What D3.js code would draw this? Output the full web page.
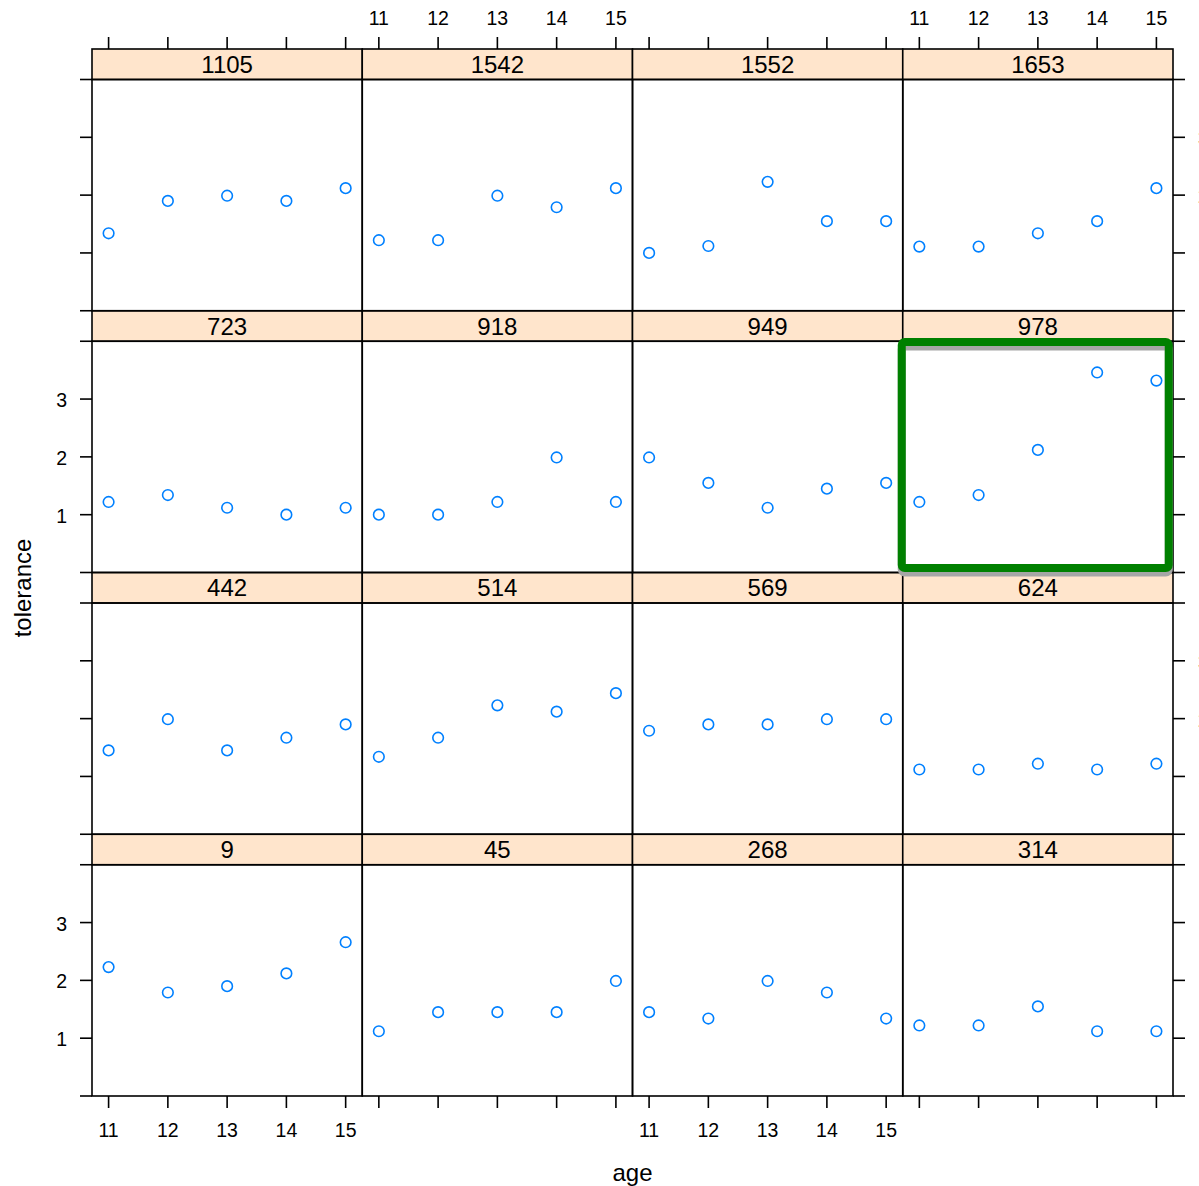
<!DOCTYPE html>
<head>
  <meta charset="utf-8">
  <script src="https://d3js.org/d3.v7.min.js"></script>
  <style>
    body { margin: 0; background: #fff; }
    text { font-family: "Liberation Sans", Arial, sans-serif; fill: #000; }
    .frame { fill: none; stroke: #000; stroke-width: 1.6; }
    .tick { stroke: #000; stroke-width: 1.6; }
  </style>
</head>
<body>
  <div id="graph"></div>
  <script>
    // panel ids, in lattice order (bottom-left first)
    var ids = [9, 45, 268, 314, 442, 514, 569, 624, 723, 918, 949, 978, 1105, 1542, 1552, 1653];
    var ages = [11, 12, 13, 14, 15];
    var tolerance = [
      [2.23, 1.79, 1.90, 2.12, 2.66],
      [1.12, 1.45, 1.45, 1.45, 1.99],
      [1.45, 1.34, 1.99, 1.79, 1.34],
      [1.22, 1.22, 1.55, 1.12, 1.12],
      [1.45, 1.99, 1.45, 1.67, 1.90],
      [1.34, 1.67, 2.23, 2.12, 2.44],
      [1.79, 1.90, 1.90, 1.99, 1.99],
      [1.12, 1.12, 1.22, 1.12, 1.22],
      [1.22, 1.34, 1.12, 1.00, 1.12],
      [1.00, 1.00, 1.22, 1.99, 1.22],
      [1.99, 1.55, 1.12, 1.45, 1.55],
      [1.22, 1.34, 2.12, 3.46, 3.32],
      [1.34, 1.90, 1.99, 1.90, 2.12],
      [1.22, 1.22, 1.99, 1.79, 2.12],
      [1.00, 1.12, 2.23, 1.55, 1.55],
      [1.11, 1.11, 1.34, 1.55, 2.12]
    ];
    var yTicks = [0, 1, 2, 3, 4];
    var yLabels = [1, 2, 3];
    var highlightId = 978;

    var width = 1199, height = 1186;
    var mLeft = 92, mRight = 1173, mTop = 49, mBottom = 1096;
    var ncol = 4, nrow = 4;
    var colW = (mRight - mLeft) / ncol;
    var rowH = (mBottom - mTop) / nrow;
    var stripH = 30.5;
    var panelH = rowH - stripH;
    var tickLen = 12;

    var svg = d3.select("#graph").append("svg")
      .attr("width", width)
      .attr("height", height);

    var x = d3.scaleLinear().domain([10.72, 15.28]).range([0, colW]);
    var y = d3.scaleLinear().domain([0, 4]).range([panelH, 0]);

    function panelPos(i) {
      var col = i % ncol;
      var row = nrow - 1 - Math.floor(i / ncol); // row 0 at top
      return { col: col, row: row, x0: mLeft + col * colW, y0: mTop + row * rowH };
    }

    var hlLayer;

    ids.forEach(function(id, i) {
      var p = panelPos(i);
      var g = svg.append("g").attr("transform", "translate(" + p.x0 + "," + p.y0 + ")");

      // strip
      g.append("rect")
        .attr("width", colW).attr("height", stripH)
        .attr("fill", "#ffe5cc");
      g.append("text")
        .attr("x", colW / 2).attr("y", stripH / 2 + 8.5)
        .attr("text-anchor", "middle")
        .attr("font-size", 24)
        .text(id);
      g.append("rect").attr("class", "frame")
        .attr("width", colW).attr("height", stripH);

      var pg = g.append("g").attr("transform", "translate(0," + stripH + ")");
      pg.append("rect").attr("class", "frame")
        .attr("width", colW).attr("height", panelH);

      pg.selectAll("circle")
        .data(tolerance[i]).enter()
        .append("circle")
        .attr("cx", function(d, j) { return x(ages[j]); })
        .attr("cy", function(d) { return y(d); })
        .attr("r", 5.3)
        .attr("fill", "none")
        .attr("stroke", "#0080ff")
        .attr("stroke-width", 1.6);

      // left axis (first column)
      if (p.col === 0) {
        yTicks.forEach(function(t) {
          pg.append("line").attr("class", "tick")
            .attr("x1", -tickLen).attr("x2", 0)
            .attr("y1", y(t)).attr("y2", y(t));
        });
        if (p.row % 2 === 1) {
          yLabels.forEach(function(t) {
            pg.append("text")
              .attr("x", -tickLen - 13).attr("y", y(t) + 8)
              .attr("text-anchor", "end")
              .attr("font-size", 19.5)
              .text(t);
          });
        }
      }
      // right axis (last column); labels fall just past the page edge
      if (p.col === ncol - 1) {
        yTicks.forEach(function(t) {
          pg.append("line").attr("class", "tick")
            .attr("x1", colW).attr("x2", colW + tickLen)
            .attr("y1", y(t)).attr("y2", y(t));
        });
        if (p.row % 2 === 0) {
          yLabels.forEach(function(t) {
            pg.append("text")
              .attr("x", colW + tickLen + 13).attr("y", y(t) + 8)
              .attr("font-size", 19.5)
              .text(t);
          });
        }
      }
      // bottom axis (last row)
      if (p.row === nrow - 1) {
        ages.forEach(function(a) {
          pg.append("line").attr("class", "tick")
            .attr("x1", x(a)).attr("x2", x(a))
            .attr("y1", panelH).attr("y2", panelH + tickLen);
          if (p.col % 2 === 0) {
            pg.append("text")
              .attr("x", x(a)).attr("y", panelH + tickLen + 29)
              .attr("text-anchor", "middle")
              .attr("font-size", 19.5)
              .text(a);
          }
        });
      }
      // top axis (first row)
      if (p.row === 0) {
        ages.forEach(function(a) {
          g.append("line").attr("class", "tick")
            .attr("x1", x(a)).attr("x2", x(a))
            .attr("y1", 0).attr("y2", -tickLen);
          if (p.col % 2 === 1) {
            g.append("text")
              .attr("x", x(a)).attr("y", -tickLen - 12)
              .attr("text-anchor", "middle")
              .attr("font-size", 19.5)
              .text(a);
          }
        });
      }

      if (id === highlightId) hlLayer = { x0: p.x0, y0: p.y0 + stripH };
    });

    // highlighted panel (drawn last, on top of neighbours)
    if (hlLayer) {
      var hg = svg.append("g").attr("transform", "translate(" + hlLayer.x0 + "," + hlLayer.y0 + ")");
      // grey drop shadow, offset downwards
      hg.append("rect")
        .attr("x", -1).attr("y", 0.75 + 4.5)
        .attr("width", 267).attr("height", 226)
        .attr("rx", 3)
        .attr("fill", "none")
        .attr("stroke", "#a6a6a6")
        .attr("stroke-width", 8);
      hg.append("rect")
        .attr("x", -1).attr("y", 0.75)
        .attr("width", 267).attr("height", 226)
        .attr("rx", 3)
        .attr("fill", "none")
        .attr("stroke", "#008000")
        .attr("stroke-width", 8);
    }

    // axis titles
    svg.append("text")
      .attr("x", (mLeft + mRight) / 2).attr("y", 1181)
      .attr("text-anchor", "middle")
      .attr("font-size", 24)
      .text("age");
    svg.append("text")
      .attr("transform", "translate(31,588) rotate(-90)")
      .attr("text-anchor", "middle")
      .attr("font-size", 24)
      .text("tolerance");
  </script>
</body>
